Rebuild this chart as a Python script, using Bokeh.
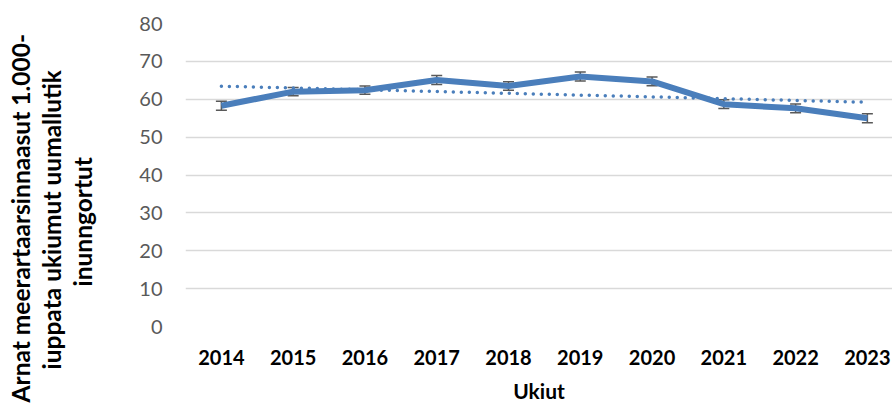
import numpy as np
from bokeh.plotting import figure
from bokeh.models import (ColumnDataSource, Range1d, FixedTicker, Whisker, TeeHead, Title)
from bokeh.embed import file_html
from bokeh.resources import INLINE

years = ["2014", "2015", "2016", "2017", "2018", "2019", "2020", "2021", "2022", "2023"]
rates = [58.3, 62.0, 62.4, 65.1, 63.5, 66.0, 64.7, 58.7, 57.6, 55.0]
errors = [1.2, 1.1, 1.1, 1.2, 1.15, 1.2, 1.15, 1.15, 1.15, 1.2]
y_ticks = [0, 10, 20, 30, 40, 50, 60, 70, 80]
y_title_lines = ["Arnat meerartaarsinnaasut 1.000-", "iuppata ukiumut uumallutik", "inunngortut"]

x = list(range(len(years)))
coef = np.polyfit(x, rates, 1)
trend = list(np.polyval(coef, x))

src = ColumnDataSource(dict(
    x=x, y=rates,
    upper=[r + e for r, e in zip(rates, errors)],
    lower=[r - e for r, e in zip(rates, errors)],
    trend=trend,
))

FONT = "Lato"
BLUE = "#4a7ebb"

p = figure(width=892, height=405, output_backend="svg", toolbar_location=None,
           x_range=Range1d(-0.5, 9.35), y_range=Range1d(0, 80),
           min_border_left=185, min_border_right=0, min_border_top=23, min_border_bottom=79)
p.outline_line_color = None
p.background_fill_color = "white"
p.border_fill_color = "white"
p.xgrid.grid_line_color = None
p.ygrid.grid_line_color = "#d9d9d9"
p.ygrid.grid_line_width = 1.5

p.xaxis.ticker = FixedTicker(ticks=x)
p.xaxis.major_label_overrides = {i: y for i, y in enumerate(years)}
p.yaxis.ticker = FixedTicker(ticks=y_ticks)

for ax in (p.xaxis, p.yaxis):
    ax.axis_line_color = None
    ax.major_tick_line_color = None
    ax.minor_tick_line_color = None
    ax.major_tick_out = 0
    ax.major_tick_in = 0

p.yaxis.major_label_text_font = FONT
p.yaxis.major_label_text_font_size = "20px"
p.yaxis.major_label_text_color = "#595959"
p.yaxis.major_label_standoff = 23
# blank axis label used only as spacing between tick labels and the title
p.yaxis.axis_label = " "
p.yaxis.axis_label_text_font_size = "20px"
p.yaxis.axis_label_standoff = 15

p.xaxis.major_label_text_font = FONT
p.xaxis.major_label_text_font_size = "20px"
p.xaxis.major_label_text_font_style = "bold"
p.xaxis.major_label_text_color = "black"
p.xaxis.major_label_standoff = 23
p.xaxis.axis_label = "Ukiut"
p.xaxis.axis_label_text_font = FONT
p.xaxis.axis_label_text_font_size = "21px"
p.xaxis.axis_label_text_font_style = "bold"
p.xaxis.axis_label_text_color = "black"
p.xaxis.axis_label_standoff = 10

p.line("x", "trend", source=src, line_color=BLUE, line_width=3.5,
       line_dash="0 8", line_cap="round")
p.line("x", "y", source=src, line_color=BLUE, line_width=6, line_join="round")

p.add_layout(Whisker(base="x", upper="upper", lower="lower", source=src,
                     dimension="height", line_color="#595959", line_width=1.5,
                     upper_head=TeeHead(size=11, line_color="#595959", line_width=1.5),
                     lower_head=TeeHead(size=11, line_color="#595959", line_width=1.5)))

# y-axis title: one Title per line, innermost line added first
for line, off in zip(reversed(y_title_lines), [40, -43, -76]):
    p.add_layout(Title(text=line, align="left", offset=off, standoff=0,
                       text_font=FONT, text_font_size="24.5px", text_font_style="bold",
                       text_color="black"), "left")

open("out.html", "w").write(file_html(p, INLINE))
